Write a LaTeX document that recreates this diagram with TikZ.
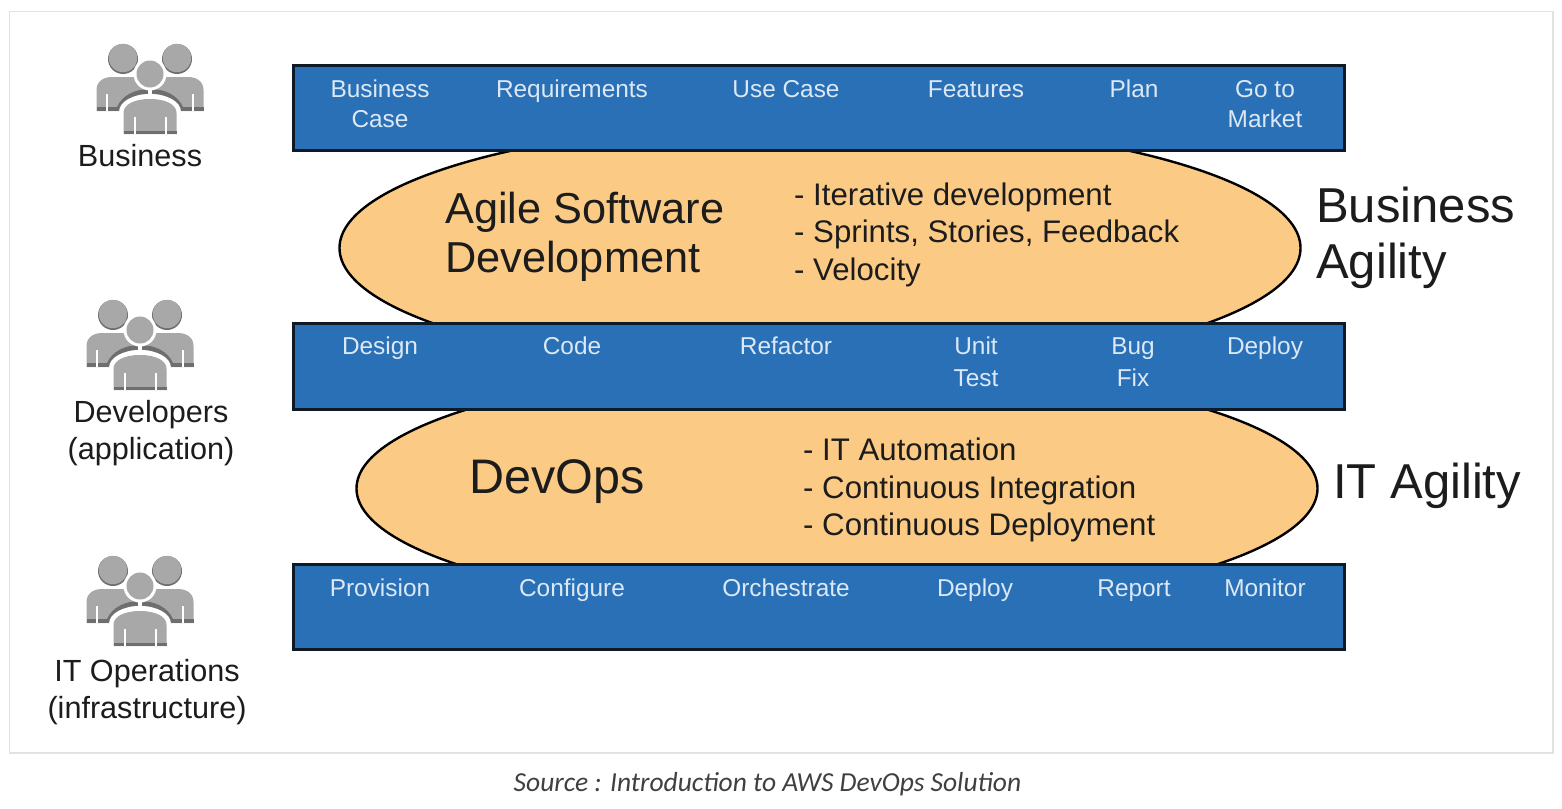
\documentclass[tikz,border=0pt]{standalone}
\usepackage{fontspec}
\setmainfont{Liberation Sans}
\newfontfamily\capfont{Carlito}
\usetikzlibrary{shapes.geometric}
\definecolor{barblue}{HTML}{2A70B7}
\definecolor{barline}{HTML}{0E1A26}
\definecolor{ovalfill}{HTML}{FBCB86}
\definecolor{iconlight}{HTML}{A8A8A8}
\definecolor{icondark}{HTML}{6E6E6E}
\definecolor{inktext}{HTML}{1C1C1C}
\definecolor{bartext}{HTML}{DCE8F4}
\definecolor{framegrey}{HTML}{E2E2E2}
\tikzset{
  x=1pt,y=-1pt,
  bar/.style={draw=barline,line width=2.6pt,fill=barblue,rectangle,minimum width=1051pt,inner sep=0pt,anchor=north west},
  oval/.style={draw=black,line width=2.4pt,fill=ovalfill,ellipse,inner sep=0pt,minimum width=961pt},
  barlabel/.style={text=bartext,font=\fontsize{24.4}{30.5}\selectfont,align=center,inner sep=0pt},
  barbase/.style={barlabel,anchor=base},
  bigtitle/.style={text=inktext,font=\fontsize{43.3}{49}\selectfont,align=left,inner sep=0pt},
  sidetitle/.style={text=inktext,font=\fontsize{49}{56}\selectfont,align=left,inner sep=0pt},
  bullets/.style={text=inktext,font=\fontsize{31.2}{37.5}\selectfont,align=left,inner sep=0pt},
  rolelabel/.style={text=inktext,font=\fontsize{30.6}{37}\selectfont,align=center,inner sep=0pt},
  people/.pic={
    \foreach \s in {-1,1}{
      \fill[icondark] (\s*27,-15) circle (15);
      \fill[iconlight] (\s*27,-16) circle (14.2);
      \fill[iconlight] (\s*53.5,37) -- (\s*53.5,16) .. controls (\s*53.5,7) and (\s*46,3) .. (\s*38,3)
        -- (\s*2,3) -- (\s*2,37) -- cycle;
      \fill[icondark] (\s*53.5,32.5) rectangle (\s*20,37);
      \draw[white,line width=1.2pt] (\s*43,20) -- (\s*43,37);
      \draw[icondark,line width=4.5pt] (\s*31,34) .. controls (\s*26,23) and (\s*14,17.5) .. (\s*2,17.5);
    }
    \draw[white,line width=4pt] (0,10) -- (0,24);
    \fill[white] (0,0) circle (16.5);
    \fill[iconlight] (0,0) circle (13.5);
    \fill[white] (-31,62) -- (-31,38) .. controls (-31,27) and (-16,20) .. (0,20)
      .. controls (16,20) and (31,27) .. (31,38) -- (31,62) -- cycle;
    \fill[iconlight] (-26.5,60) -- (-26.5,39) .. controls (-26.5,30) and (-15,25) .. (0,25)
      .. controls (15,25) and (26.5,30) .. (26.5,39) -- (26.5,60) -- cycle;
    \fill[icondark] (-26.5,56.5) rectangle (26.5,60);
    \draw[white,line width=1.3pt] (-15,43) -- (-15,60) (16,43) -- (16,60);
  }
}
\begin{document}
\begin{tikzpicture}
\useasboundingbox (0,0) rectangle (1562,808);
\fill[white] (0,0) rectangle (1562,808);
\draw[framegrey,line width=1.5pt] (9.5,11.5) rectangle (1553,753);

% ovals first, bars cover their tops and bottoms
\node[oval,minimum height=254pt] (agile) at (820,248) {};
\node[oval,minimum height=248pt] (devops) at (837,488.5) {};

% bars
\node[bar,minimum height=85.4pt] (barA) at (292,64) {};
\node[bar,minimum height=86.4pt] (barB) at (292,322) {};
\node[bar,minimum height=85.4pt] (barC) at (292,563) {};

% bar labels
\node[barlabel] (a1) at (380,104) {Business\\Case};
\node[barbase] (a2) at (572,97) {Requirements};
\node[barbase] (a3) at (786,97) {Use Case};
\node[barbase] (a4) at (976,97) {Features};
\node[barbase] (a5) at (1134,97) {Plan};
\node[barlabel] (a6) at (1265,104) {Go to\\Market};

\node[barbase] (b1) at (380,354) {Design};
\node[barbase] (b2) at (572,354) {Code};
\node[barbase] (b3) at (786,354) {Refactor};
\node[barlabel,font=\fontsize{24.4}{31.5}\selectfont] (b4) at (976,362) {Unit\\Test};
\node[barlabel,font=\fontsize{24.4}{31.5}\selectfont] (b5) at (1133,362) {Bug\\Fix};
\node[barbase] (b6) at (1265,354) {Deploy};

\node[barbase] (c1) at (380,596) {Provision};
\node[barbase] (c2) at (572,596) {Configure};
\node[barbase] (c3) at (786,596) {Orchestrate};
\node[barbase] (c4) at (975,596) {Deploy};
\node[barbase] (c5) at (1134,596) {Report};
\node[barbase] (c6) at (1265,596) {Monitor};

% oval texts
\node[bigtitle,anchor=west] (agiletitle) at (445,237) {Agile Software\\Development};
\node[bullets,anchor=west] (agilelist) at (794,234.5) {- Iterative development\\- Sprints, Stories, Feedback\\- Velocity};
\node[sidetitle,font=\fontsize{48.5}{56}\selectfont,anchor=west] (devopstitle) at (469,482) {DevOps};
\node[bullets,anchor=west] (devopslist) at (803,490) {- IT Automation\\- Continuous Integration\\- Continuous Deployment};

% right-hand titles
\node[sidetitle,anchor=west] (bizag) at (1316,238) {Business\\Agility};
\node[sidetitle,anchor=west] (itag) at (1333,486) {IT Agility};

% people icons
\pic at (150,74) {people};
\pic at (140,330) {people};
\pic at (140,586) {people};

\node[rolelabel] (role1) at (140,156) {Business};
\node[rolelabel] (role2) at (151,433) {Developers\\(application)};
\node[rolelabel] (role3) at (147,692) {IT Operations\\(infrastructure)};

\node[inner sep=0pt,text=black!75,font=\capfont\itshape\fontsize{27.5}{30}\selectfont] (source) at (767.5,784) {Source : Introduction to AWS DevOps Solution};
\end{tikzpicture}
\end{document}
